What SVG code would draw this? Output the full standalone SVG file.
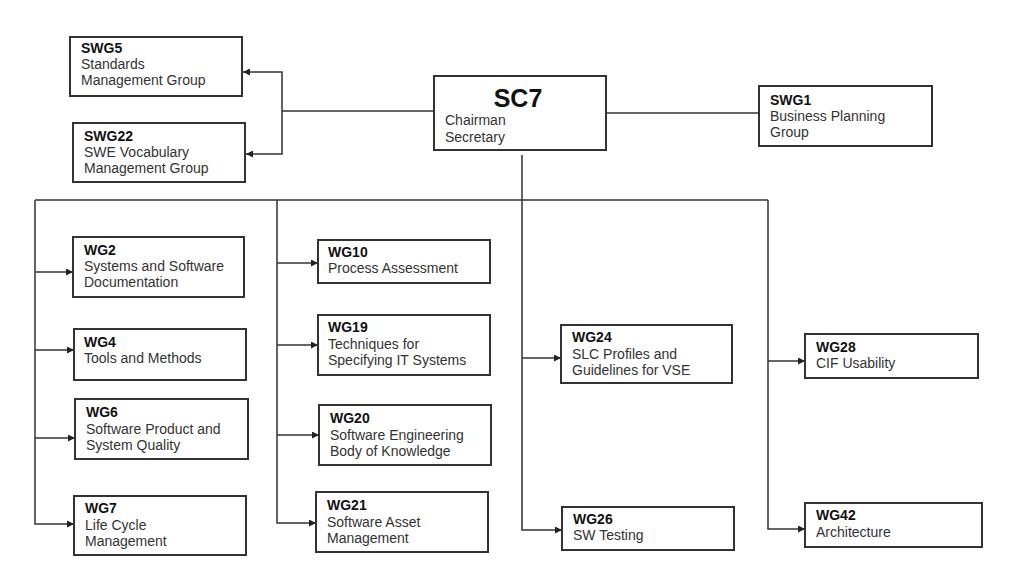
<svg xmlns="http://www.w3.org/2000/svg" width="1010" height="572" viewBox="0 0 1010 572">
<defs>
<marker id="ah" viewBox="0 0 10 10" refX="10" refY="5" markerWidth="7" markerHeight="7" markerUnits="userSpaceOnUse" orient="auto"><path d="M0,0 L10,5 L0,10 z" fill="#222"/></marker>
<style>
.box{fill:#fff;stroke:#333;stroke-width:2}
.t{font-family:"Liberation Sans",Arial,sans-serif;font-size:14px;font-weight:bold;fill:#111}
.d{font-family:"Liberation Sans",Arial,sans-serif;font-size:14px;fill:#333}
.c{fill:none;stroke:#333;stroke-width:1.5}
.a{fill:none;stroke:#333;stroke-width:1.5;marker-end:url(#ah)}
</style>
</defs>
<rect width="1010" height="572" fill="#fff"/>
<g id="connectors">
<path class="c" d="M434,111 H282"/>
<path class="a" d="M282,111 V72 H243"/>
<path class="a" d="M282,111 V154 H246"/>
<path class="c" d="M606,113 H759"/>
<path class="c" d="M522,155 V200"/>
<path class="c" d="M35,200 H768"/>
<path class="a" d="M35,200 V524 H74"/>
<path class="a" d="M35,272 H73"/>
<path class="a" d="M35,350 H74"/>
<path class="a" d="M35,438 H75"/>
<path class="a" d="M277,200 V523 H316"/>
<path class="a" d="M277,263 H318"/>
<path class="a" d="M277,345 H318"/>
<path class="a" d="M277,435 H319"/>
<path class="a" d="M522,200 V530 H562"/>
<path class="a" d="M522,358 H561"/>
<path class="a" d="M768,200 V529 H805"/>
<path class="a" d="M768,361 H805"/>
</g>
<g id="SC7">
<rect class="box" x="434" y="76" width="172" height="74"/>
<text x="518" y="107" text-anchor="middle" style="font-family:'Liberation Sans',Arial,sans-serif;font-size:25px;font-weight:bold;fill:#111">SC7</text>
<text class="d" x="445" y="125">Chairman</text>
<text class="d" x="445" y="142">Secretary</text>
</g>
<g id="SWG5">
<rect class="box" x="70" y="37" width="172" height="59"/>
<text class="t" x="81" y="53">SWG5</text>
<text class="d" x="81" y="69">Standards</text>
<text class="d" x="81" y="85">Management Group</text>
</g>
<g id="SWG22">
<rect class="box" x="73" y="123" width="172" height="59"/>
<text class="t" x="84" y="141">SWG22</text>
<text class="d" x="84" y="157">SWE Vocabulary</text>
<text class="d" x="84" y="173">Management Group</text>
</g>
<g id="SWG1">
<rect class="box" x="759" y="86" width="173" height="60"/>
<text class="t" x="770" y="105">SWG1</text>
<text class="d" x="770" y="121">Business Planning</text>
<text class="d" x="770" y="137">Group</text>
</g>
<g id="WG2">
<rect class="box" x="73" y="237" width="171" height="60"/>
<text class="t" x="84" y="255">WG2</text>
<text class="d" x="84" y="271">Systems and Software</text>
<text class="d" x="84" y="287">Documentation</text>
</g>
<g id="WG4">
<rect class="box" x="74" y="329" width="172" height="51"/>
<text class="t" x="84" y="347">WG4</text>
<text class="d" x="84" y="363">Tools and Methods</text>
</g>
<g id="WG6">
<rect class="box" x="75" y="399" width="173" height="60"/>
<text class="t" x="86" y="417">WG6</text>
<text class="d" x="86" y="434">Software Product and</text>
<text class="d" x="86" y="450">System Quality</text>
</g>
<g id="WG7">
<rect class="box" x="74" y="496" width="172" height="59"/>
<text class="t" x="85" y="513">WG7</text>
<text class="d" x="85" y="530">Life Cycle</text>
<text class="d" x="85" y="546">Management</text>
</g>
<g id="WG10">
<rect class="box" x="318" y="240" width="172" height="43"/>
<text class="t" x="328" y="257">WG10</text>
<text class="d" x="328" y="273">Process Assessment</text>
</g>
<g id="WG19">
<rect class="box" x="318" y="315" width="172" height="60"/>
<text class="t" x="328" y="332">WG19</text>
<text class="d" x="328" y="349">Techniques for</text>
<text class="d" x="328" y="365">Specifying IT Systems</text>
</g>
<g id="WG20">
<rect class="box" x="319" y="405" width="172" height="60"/>
<text class="t" x="330" y="423">WG20</text>
<text class="d" x="330" y="440">Software Engineering</text>
<text class="d" x="330" y="456">Body of Knowledge</text>
</g>
<g id="WG21">
<rect class="box" x="316" y="492" width="172" height="60"/>
<text class="t" x="327" y="510">WG21</text>
<text class="d" x="327" y="527">Software Asset</text>
<text class="d" x="327" y="543">Management</text>
</g>
<g id="WG24">
<rect class="box" x="561" y="325" width="171" height="58"/>
<text class="t" x="572" y="342">WG24</text>
<text class="d" x="572" y="359">SLC Profiles and</text>
<text class="d" x="572" y="375">Guidelines for VSE</text>
</g>
<g id="WG26">
<rect class="box" x="562" y="507" width="172" height="43"/>
<text class="t" x="573" y="524">WG26</text>
<text class="d" x="573" y="540">SW Testing</text>
</g>
<g id="WG28">
<rect class="box" x="805" y="334" width="173" height="44"/>
<text class="t" x="816" y="352">WG28</text>
<text class="d" x="816" y="368">CIF Usability</text>
</g>
<g id="WG42">
<rect class="box" x="805" y="503" width="177" height="44"/>
<text class="t" x="816" y="520">WG42</text>
<text class="d" x="816" y="537">Architecture</text>
</g>
</svg>
